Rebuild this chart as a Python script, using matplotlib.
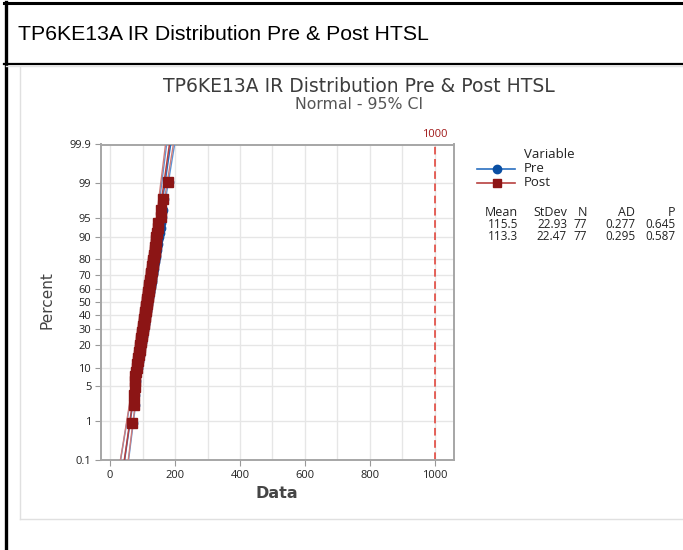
import numpy as np
import matplotlib
matplotlib.use('Agg')
import matplotlib.pyplot as plt
from matplotlib.lines import Line2D
from statistics import NormalDist

# data (sorted values, 77 each)
pre = [70, 76, 77, 78, 80, 81, 83, 85, 87, 88, 89, 91, 92, 93, 94, 96, 97, 98, 99, 100,
       101, 102, 103, 104, 105, 106, 106, 107, 108, 109, 110, 111, 112, 113, 114, 115, 115,
       116, 117, 118, 118, 119, 120, 121, 122, 123, 124, 125, 126, 127, 128, 128, 129, 130,
       131, 132, 133, 134, 135, 136, 137, 138, 140, 141, 142, 143, 145, 147, 149, 151, 153,
       157, 158, 160, 164, 165, 181]
post = [67, 75, 75, 76, 78, 78, 80, 82, 84, 86, 86, 88, 90, 91, 92, 93, 94, 95, 96, 97,
        98, 99, 100, 100, 102, 103, 104, 105, 105, 106, 107, 108, 109, 110, 110, 111, 112,
        113, 113, 114, 115, 116, 117, 117, 118, 119, 120, 121, 121, 122, 123, 124, 125, 125,
        126, 127, 128, 129, 130, 131, 132, 133, 134, 135, 137, 138, 139, 140, 141, 142, 144,
        146, 148, 156, 157, 163, 179]

names = ['Pre', 'Post']
means = [115.5, 113.3]
stdevs = [22.93, 22.47]
ns = [77, 77]
ads = ['0.277', '0.295']
pvals = ['0.645', '0.587']
ref_x = 1000

pct_ticks = [0.1, 1, 5, 10, 20, 30, 40, 50, 60, 70, 80, 90, 95, 99, 99.9]
pct_labels = ['0.1', '1', '5', '10', '20', '30', '40', '50', '60', '70', '80', '90', '95', '99', '99.9']
x_ticks = [0, 200, 400, 600, 800, 1000]

nd = NormalDist()
W, H = 683, 550
fig = plt.figure(figsize=(W / 100, H / 100), dpi=100)
fig.patch.set_facecolor('white')

def fx(px):
    return px / W

def fy(py):
    return 1 - py / H

# document frame around the chart
fig.add_artist(Line2D([fx(4), 1], [fy(2.5), fy(2.5)], color='black', lw=2.2))
fig.add_artist(Line2D([fx(4), 1], [fy(64), fy(64)], color='black', lw=1.6))
fig.add_artist(Line2D([fx(5.5), fx(5.5)], [fy(2), 0], color='black', lw=2.4))
fig.add_artist(Line2D([fx(6), 1], [fy(66), fy(66)], color='#e4e4e4', lw=1))
fig.add_artist(Line2D([fx(20), fx(20)], [fy(67), fy(519)], color='#e0e0e0', lw=1))
fig.add_artist(Line2D([fx(20), 1], [fy(519), fy(519)], color='#e0e0e0', lw=1))
fig.text(fx(18), fy(35), 'TP6KE13A IR Distribution Pre & Post HTSL', family='Liberation Sans',
         fontsize=15.3, va='center', ha='left', color='black')

# chart titles
fig.text(fx(359), fy(87), 'TP6KE13A IR Distribution Pre & Post HTSL', family='DejaVu Sans',
         fontsize=13.5, va='center', ha='center', color='#3c3c3c')
fig.text(fx(359), fy(104.5), 'Normal - 95% CI', family='DejaVu Sans',
         fontsize=11.3, va='center', ha='center', color='#555555')

ax = fig.add_axes([fx(101), fy(460), fx(454) - fx(101), fy(144.5) - fy(460)])
zlim = nd.inv_cdf(0.999)
ax.set_ylim(-zlim, zlim)
ax.set_xlim(-28, 1059)

blue = '#0a4fa3'
red = '#8c1515'
line_cols = ['#2a6fc0', '#b8413f']
ci_cols = ['#5b95d6', '#cf7c7a']
mk = ['o', 's']

z = np.linspace(-zlim, zlim, 200)
for k, vals in enumerate([pre, post]):
    v = np.sort(np.array(vals, dtype=float))
    n = len(v)
    pp = (np.arange(1, n + 1) - 0.3) / (n + 0.4)
    zz = [nd.inv_cdf(p) for p in pp]
    m, s = means[k], stdevs[k]
    fit = m + z * s
    se = s * np.sqrt(1.0 / n + z ** 2 / (2.0 * n))
    ax.plot(fit, z, color=line_cols[k], lw=1.1, zorder=3 + k)
    ax.plot(fit - 1.96 * se, z, color=ci_cols[k], lw=1.0, zorder=3 + k)
    ax.plot(fit + 1.96 * se, z, color=ci_cols[k], lw=1.0, zorder=3 + k)
    ax.plot(v, zz, ls='none', marker=mk[k], ms=6.5 if k == 1 else 6,
            color=[blue, red][k], zorder=5 + k)

ax.axvline(ref_x, color='#e0392f', lw=1.1, ls=(0, (5, 3)), zorder=2)
ax.text(ref_x, zlim + 0.08, str(ref_x), color='#a01818', fontsize=8, family='Open Sans',
        ha='center', va='bottom')

ax.set_yticks([nd.inv_cdf(p / 100) for p in pct_ticks])
ax.set_yticklabels(pct_labels)
ax.set_xticks(x_ticks)
ax.set_xticks(range(0, 1001, 100), minor=True)
ax.grid(True, which='both', color='#e6e6e6', lw=1)
ax.set_axisbelow(True)
ax.tick_params(axis='x', which='minor', length=0)
ax.tick_params(which='major', length=4, color='#999999', labelsize=8, labelcolor='#222222', pad=3)
for lab in ax.get_xticklabels() + ax.get_yticklabels():
    lab.set_family('Open Sans')
for sp in ax.spines.values():
    sp.set_color('#a6a6a6')
    sp.set_linewidth(1.4)

fig.text(fx(47), fy(300), 'Percent', rotation=90, family='DejaVu Sans', fontsize=11,
         color='#444444', ha='center', va='center')
fig.text(fx(277), fy(494), 'Data', family='DejaVu Sans', fontsize=11.5, color='#454545',
         ha='center', va='center', fontweight='bold')

# legend
fig.text(fx(524), fy(155), 'Variable', family='Open Sans', fontsize=9.5, va='center', color='#222222')
for k, yy in enumerate([169, 183]):
    fig.add_artist(Line2D([fx(477), fx(515)], [fy(yy), fy(yy)], color=line_cols[k], lw=1.2))
    fig.add_artist(Line2D([fx(497)], [fy(yy)], marker=mk[k], ms=6, color=[blue, red][k], ls='none'))
    fig.text(fx(524), fy(yy), names[k], family='Open Sans', fontsize=9.5, va='center', color='#222222')

# stats table
cols_x = [518, 567, 587, 635, 675]
heads = ['Mean', 'StDev', 'N', 'AD', 'P']
for cx, h in zip(cols_x, heads):
    fig.text(fx(cx), fy(212), h, family='Open Sans', fontsize=9, ha='right', va='center', color='#222222')
for k, yy in enumerate([224, 236]):
    row = ['%.1f' % means[k], '%.2f' % stdevs[k], str(ns[k]), ads[k], pvals[k]]
    for cx, t in zip(cols_x, row):
        fig.text(fx(cx), fy(yy), t, family='Open Sans', fontsize=8.5, ha='right', va='center', color='#222222')

fig.savefig('out.png', dpi=100)
